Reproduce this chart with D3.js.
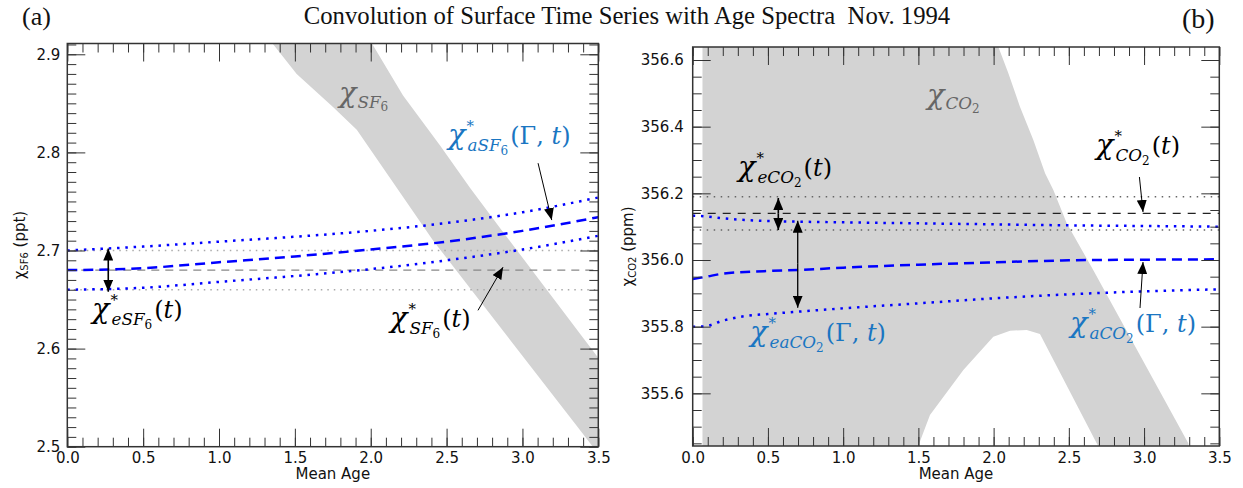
<!DOCTYPE html>
<html>
<head>
<meta charset="utf-8">
<script src="https://cdn.jsdelivr.net/npm/d3@7"></script>
<style>
  body { margin: 0; background: #fff; }
  svg { display: block; }
</style>
</head>
<body>
<svg id="chart" width="1243" height="488"></svg>
<script>
// ---- data ----
const xTicks = [0, 0.5, 1.0, 1.5, 2.0, 2.5, 3.0, 3.5];
const sf6YTicks = [2.5, 2.6, 2.7, 2.8, 2.9];
const co2YTicks = [355.6, 355.8, 356.0, 356.2, 356.4, 356.6];

// SF6 panel (a)
const sf6Age   = [0, 0.5, 1.0, 1.5, 2.0, 2.5, 3.0, 3.5];
const sf6Mean  = [2.680, 2.682, 2.688, 2.694, 2.701, 2.709, 2.720, 2.734];
const sf6Upper = [2.700, 2.704, 2.709, 2.714, 2.720, 2.728, 2.739, 2.754];
const sf6Lower = [2.660, 2.662, 2.668, 2.674, 2.681, 2.690, 2.701, 2.715];
const sf6Ref = 2.68, sf6RefErr = 0.02;
// grey band of the surface series (left edge, right edge) as [age, value]
const sf6BandLeft  = [[1.33, 2.915], [1.358, 2.910], [1.512, 2.880], [1.753, 2.846], [1.908, 2.823], [2.412, 2.710], [3.379, 2.517], [3.464, 2.500], [3.55, 2.482]];
const sf6BandRight = [[1.993, 2.915], [2.008, 2.911], [2.213, 2.858], [2.457, 2.807], [2.654, 2.764], [2.852, 2.723], [3.498, 2.591], [3.55, 2.580]];

// CO2 panel (b)
const co2Age   = [0, 0.08, 0.2, 0.35, 0.5, 0.7, 1.0, 1.5, 2.0, 2.5, 3.0, 3.5];
const co2Mean  = [355.943, 355.949, 355.959, 355.964, 355.967, 355.970, 355.977, 355.986, 355.993, 355.999, 356.001, 356.002];
const co2Upper = [356.133, 356.131, 356.125, 356.120, 356.117, 356.115, 356.113, 356.110, 356.107, 356.104, 356.102, 356.100];
const co2Lower = [355.800, 355.801, 355.818, 355.832, 355.838, 355.845, 355.855, 355.870, 355.885, 355.897, 355.906, 355.912];
const co2Ref = 356.14, co2RefErr = 0.05;
const co2BandTop = [[0.065, 356.70], [2.02, 356.70], [2.031, 356.640], [2.098, 356.560], [2.175, 356.460], [2.264, 356.360], [2.342, 356.260], [2.397, 356.210], [2.486, 356.110], [2.662, 355.970], [3.294, 355.450], [3.31, 355.40]];
const co2BandBottom = [[0.065, 355.40], [1.45, 355.40], [1.499, 355.442], [1.577, 355.535], [1.799, 355.670], [1.998, 355.770], [2.109, 355.788], [2.220, 355.790], [2.308, 355.778], [2.685, 355.450], [2.75, 355.40], [3.31, 355.40]];

// Constants
const BLUE = "#0000ff";
const LABEL_BLUE = "#1a76c2";
const BAND = "#d3d3d3";
const AXIS = "#333";
const MATH_FONT = "DejaVu Serif";
const SANS = "DejaVu Sans";

const svg = d3.select("#chart");

const xA = d3.scaleLinear().domain([0, 3.5]).range([67.3, 598.3]);
const yA = d3.scaleLinear().domain([2.5, 2.911]).range([446.7, 43.5]);
const xB = d3.scaleLinear().domain([0, 3.5]).range([692.7, 1219.3]);
const yB = d3.scaleLinear().domain([355.442, 356.639]).range([446, 47]);

// arrow markers
const defs = svg.append("defs");
defs.append("marker")
    .attr("id", "head")
    .attr("markerUnits", "userSpaceOnUse")
    .attr("viewBox", "0 0 12 10")
    .attr("markerWidth", 12)
    .attr("markerHeight", 10)
    .attr("refX", 12)
    .attr("refY", 5)
    .attr("orient", "auto")
    .append("path")
    .attr("d", "M0,0 L12,5 L0,10 Z")
    .attr("fill", "#000");

function makePanel(id, x, y) {
  const [x0, x1] = x.range();
  const [y0, y1] = y.range();
  defs.append("clipPath").attr("id", "clip-" + id)
      .append("rect")
      .attr("x", x0).attr("y", y1)
      .attr("width", x1 - x0).attr("height", y0 - y1);
  const g = svg.append("g").attr("id", id);
  const plot = g.append("g").attr("clip-path", `url(#clip-${id})`);
  return { g, plot, x, y };
}

function drawBand(p, ptsA, ptsB) {
  const poly = [...ptsA, ...ptsB.slice().reverse()];
  p.plot.append("path")
      .attr("d", d3.line().x(d => p.x(d[0])).y(d => p.y(d[1]))(poly) + "Z")
      .attr("fill", BAND)
      .attr("stroke", "none");
}

function hline(p, v, color, dash, w) {
  const [a, b] = p.x.domain();
  p.plot.append("line")
      .attr("x1", p.x(a)).attr("x2", p.x(b))
      .attr("y1", p.y(v)).attr("y2", p.y(v))
      .attr("stroke", color)
      .attr("stroke-width", w)
      .attr("stroke-dasharray", dash);
}

function series(p, ages, vals, dash, w) {
  const line = d3.line()
      .x((d, i) => p.x(ages[i]))
      .y(d => p.y(d))
      .curve(d3.curveMonotoneX);
  p.plot.append("path")
      .attr("d", line(vals))
      .attr("fill", "none")
      .attr("stroke", BLUE)
      .attr("stroke-width", w)
      .attr("stroke-dasharray", dash);
}

function arrow(p, from, to, w) {
  p.g.append("line")
      .attr("x1", p.x(from[0])).attr("y1", p.y(from[1]))
      .attr("x2", p.x(to[0])).attr("y2", p.y(to[1]))
      .attr("stroke", "#000")
      .attr("stroke-width", w)
      .attr("marker-end", "url(#head)");
}

// chi with star, subscript and arguments, as one text element
function mathLabel(p, pos, color, sub, num, args, star, size) {
  const t = p.g.append("text")
      .attr("x", p.x(pos[0])).attr("y", p.y(pos[1]))
      .attr("fill", color)
      .attr("font-family", MATH_FONT)
      .attr("font-size", size);
  t.append("tspan").attr("font-style", "italic").attr("font-size", size * 1.2).text("χ");
  let subDy = size * 0.22;
  let subDx = 1;
  if (star) {
    const s = t.append("tspan")
        .attr("dx", 1)
        .attr("dy", -size * 0.54)
        .attr("font-size", size * 0.62)
        .text("*");
    subDx = -s.node().getComputedTextLength() + 1;
    subDy = size * 0.84;
  }
  t.append("tspan")
      .attr("dx", subDx).attr("dy", subDy)
      .attr("font-style", "italic")
      .attr("font-size", size * 0.7)
      .text(sub);
  t.append("tspan")
      .attr("dy", size * 0.16)
      .attr("font-size", size * 0.5)
      .text(num);
  if (args) {
    const back = -(subDy + size * 0.16 - (star ? size * 0.54 : 0));
    t.append("tspan").attr("dx", 2).attr("dy", back).text("(");
    args.forEach((a, i) => {
      if (i > 0) t.append("tspan").text(", ");
      t.append("tspan").attr("font-style", a === "Γ" ? "normal" : "italic").text(a);
    });
    t.append("tspan").text(")");
  }
}

function drawAxes(p, yTicks, labelPad) {
  const { g, x, y } = p;
  const [x0, x1] = x.range();
  const [y0, y1] = y.range();
  const minorX = d3.range(0, 3.501, 0.1);
  const yd = y.domain();
  const minorStep = yTicks[1] - yTicks[0] > 0.15 ? 0.05 : 0.01;
  const minorY = d3.range(Math.ceil(yd[0] / minorStep - 1e-6) * minorStep, yd[1] + 1e-9, minorStep);

  const sets = [
    [d3.axisBottom(x).tickValues(xTicks).tickFormat(d3.format(".1f")).tickPadding(6), `translate(0,${y0})`, -18],
    [d3.axisBottom(x).tickValues(minorX).tickFormat(""), `translate(0,${y0})`, -9],
    [d3.axisTop(x).tickValues(xTicks).tickFormat(""), `translate(0,${y1})`, -18],
    [d3.axisTop(x).tickValues(minorX).tickFormat(""), `translate(0,${y1})`, -9],
    [d3.axisLeft(y).tickValues(yTicks).tickFormat(d3.format(".1f")).tickPadding(labelPad), `translate(${x0},0)`, -18],
    [d3.axisLeft(y).tickValues(minorY).tickFormat(""), `translate(${x0},0)`, -9],
    [d3.axisRight(y).tickValues(yTicks).tickFormat(""), `translate(${x1},0)`, -18],
    [d3.axisRight(y).tickValues(minorY).tickFormat(""), `translate(${x1},0)`, -9]
  ];
  sets.forEach(([ax, tr, len]) => {
    const a = g.append("g")
        .attr("transform", tr)
        .call(ax.tickSizeInner(len).tickSizeOuter(0));
    a.select(".domain").remove();
    a.selectAll("line").attr("stroke", AXIS).attr("stroke-width", 1);
    a.selectAll("text")
        .attr("font-family", SANS)
        .attr("font-size", 15)
        .attr("fill", "#111");
  });
  g.append("rect")
      .attr("x", x0).attr("y", y1)
      .attr("width", x1 - x0).attr("height", y0 - y1)
      .attr("fill", "none")
      .attr("stroke", AXIS)
      .attr("stroke-width", 1.5);

  g.append("text")
      .attr("x", (x0 + x1) / 2).attr("y", 479)
      .attr("text-anchor", "middle")
      .attr("font-family", SANS)
      .attr("font-size", 15)
      .attr("fill", "#111")
      .text("Mean Age");
}

function yLabel(p, xpos, sub, unit) {
  const [y0, y1] = p.y.range();
  const t = p.g.append("text")
      .attr("transform", `translate(${xpos},${(y0 + y1) / 2}) rotate(-90)`)
      .attr("text-anchor", "middle")
      .attr("font-family", SANS)
      .attr("font-size", 15)
      .attr("fill", "#111");
  t.append("tspan").text("χ");
  t.append("tspan").attr("font-size", 10).attr("dy", 3).text(sub);
  t.append("tspan").attr("dy", -3).text("  " + unit);
}

// ---------------- panel (a): SF6 ----------------
const pA = makePanel("panelA", xA, yA);
drawBand(pA, sf6BandLeft, sf6BandRight);
hline(pA, sf6Ref + sf6RefErr, "#aaa", "1.5,5", 1.5);
hline(pA, sf6Ref - sf6RefErr, "#aaa", "1.5,5", 1.5);
hline(pA, sf6Ref, "#888", "8,6", 1.2);
series(pA, sf6Age, sf6Upper, "2.5,5.8", 2.5);
series(pA, sf6Age, sf6Lower, "2.5,5.8", 2.5);
series(pA, sf6Age, sf6Mean, "10,6", 2.5);
drawAxes(pA, sf6YTicks, 7);
yLabel(pA, 25, "SF6", "(ppt)");

arrow(pA, [0.27, 2.680], [0.27, 2.702], 1.6);
arrow(pA, [0.27, 2.680], [0.27, 2.658], 1.6);
arrow(pA, [2.707, 2.639], [2.872, 2.683], 1);
arrow(pA, [3.103, 2.789], [3.193, 2.731], 1);

mathLabel(pA, [0.163, 2.631], "#000", "eSF", "6", ["t"], true, 24);
mathLabel(pA, [2.127, 2.622], "#000", "SF", "6", ["t"], true, 24);
mathLabel(pA, [1.791, 2.851], "#666", "SF", "6", null, false, 24);
mathLabel(pA, [2.509, 2.809], LABEL_BLUE, "aSF", "6", ["Γ", "t"], true, 24);

// ---------------- panel (b): CO2 ----------------
const pB = makePanel("panelB", xB, yB);
drawBand(pB, co2BandTop, co2BandBottom);
hline(pB, co2Ref + co2RefErr, "#666", "1.5,5.5", 1.5);
hline(pB, co2Ref - co2RefErr, "#666", "1.5,5.5", 1.5);
hline(pB, co2Ref, "#222", "8,7", 1.3);
series(pB, co2Age, co2Upper, "2.5,5.8", 2.5);
series(pB, co2Age, co2Lower, "2.5,5.8", 2.5);
series(pB, co2Age, co2Mean, "10,6", 2.5);
drawAxes(pB, co2YTicks, 9);
yLabel(pB, 633, "CO2", "(ppm)");

arrow(pB, [0.569, 356.14], [0.569, 356.186], 1.6);
arrow(pB, [0.569, 356.14], [0.569, 356.090], 1.6);
arrow(pB, [0.698, 355.99], [0.698, 356.118], 1.3);
arrow(pB, [0.698, 355.99], [0.698, 355.857], 1.3);
arrow(pB, [2.969, 356.249], [2.993, 356.144], 1);
arrow(pB, [2.973, 355.856], [2.993, 355.994], 1);

mathLabel(pB, [0.301, 356.252], "#000", "eCO", "2", ["t"], true, 24);
mathLabel(pB, [1.557, 356.468], "#666", "CO", "2", null, false, 24);
mathLabel(pB, [2.680, 356.318], "#000", "CO", "2", ["t"], true, 24);
mathLabel(pB, [0.381, 355.757], LABEL_BLUE, "eaCO", "2", ["Γ", "t"], true, 24);
mathLabel(pB, [2.508, 355.784], LABEL_BLUE, "aCO", "2", ["Γ", "t"], true, 24);

// ---------------- titles ----------------
svg.append("text")
    .attr("x", 627).attr("y", 24)
    .attr("text-anchor", "middle")
    .attr("font-family", "Liberation Serif")
    .attr("font-size", 24.7)
    .attr("fill", "#111")
    .attr("xml:space", "preserve")
    .style("white-space", "pre")
    .text("Convolution of Surface Time Series with Age Spectra  Nov. 1994");
svg.append("text")
    .attr("x", 22).attr("y", 25)
    .attr("font-family", "Liberation Serif")
    .attr("font-size", 26)
    .attr("fill", "#111")
    .text("(a)");
svg.append("text")
    .attr("x", 1182).attr("y", 28)
    .attr("font-family", "Liberation Serif")
    .attr("font-size", 28)
    .attr("fill", "#111")
    .text("(b)");
</script>
</body>
</html>
